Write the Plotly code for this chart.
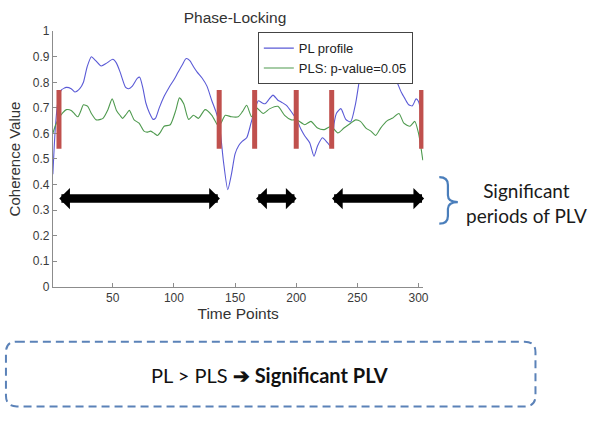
import plotly.graph_objects as go

# ---------------- data ----------------
pl_t = [1, 3, 5, 8, 12, 16, 19, 23, 26, 29, 32.5, 36, 40.5, 45, 50, 53, 56, 60.5, 63, 66,
        70, 72, 74.5, 77, 80, 83, 85, 88, 92, 96, 100, 103, 107, 110, 113, 116, 119, 123,
        127, 131, 134, 137, 140.5, 144, 147, 150, 153, 156, 159.5, 163, 166, 169, 172,
        174.5, 178, 181, 185, 188, 192, 196, 200.5, 204, 207, 211, 214.5, 217.5, 221.5,
        225.5, 229, 231, 233, 236.5, 240.5, 244.5, 248.5, 252.5, 256, 260, 265, 270, 275,
        278, 282.5, 286, 289, 292, 295, 298, 300, 303]
pl_v = [0.44, 0.62, 0.72, 0.77, 0.78, 0.775, 0.762, 0.775, 0.80, 0.86, 0.90, 0.885, 0.864,
        0.875, 0.89, 0.875, 0.84, 0.78, 0.775, 0.785, 0.815, 0.82, 0.78, 0.72, 0.68, 0.655,
        0.66, 0.70, 0.745, 0.78, 0.81, 0.836, 0.87, 0.893, 0.885, 0.861, 0.84, 0.817, 0.785,
        0.728, 0.69, 0.64, 0.49, 0.38, 0.44, 0.52, 0.553, 0.57, 0.583, 0.64, 0.69, 0.728,
        0.72, 0.716, 0.735, 0.75, 0.73, 0.722, 0.71, 0.685, 0.652, 0.615, 0.59, 0.564, 0.511,
        0.552, 0.583, 0.564, 0.545, 0.64, 0.68, 0.697, 0.655, 0.645, 0.716, 0.83, 0.88, 0.91,
        0.925, 0.92, 0.89, 0.85, 0.80, 0.76, 0.735, 0.712, 0.708, 0.735, 0.725, 0.66]

pls_t = [1, 3, 6, 9, 12, 16, 19, 21.5, 24, 26, 29.5, 32.5, 36.5, 40, 42, 46, 49.5, 53, 56,
         58, 61, 63.5, 67.5, 71.5, 75.5, 78, 81, 84, 86.5, 89, 92, 97, 101.5, 104.5, 108,
         112, 116, 120, 125.5, 131, 136.5, 139, 142, 147, 152.5, 156, 159.5, 163.5, 167.5,
         173, 178.5, 185, 190.5, 196, 200.5, 207, 212, 217.5, 223, 228.5, 234, 239, 244.5,
         248.5, 252.5, 257, 261, 265, 269, 274.5, 278.5, 284, 288, 293, 297, 300, 301.5, 303.5]
pls_v = [0.60, 0.63, 0.66, 0.68, 0.693, 0.69, 0.675, 0.665, 0.69, 0.712, 0.706, 0.678, 0.653,
         0.655, 0.659, 0.693, 0.735, 0.69, 0.67, 0.659, 0.675, 0.69, 0.653, 0.64, 0.609, 0.605,
         0.609, 0.60, 0.592, 0.605, 0.628, 0.634, 0.69, 0.739, 0.716, 0.655, 0.671, 0.659,
         0.693, 0.671, 0.628, 0.645, 0.671, 0.665, 0.665, 0.685, 0.71, 0.665, 0.70, 0.678,
         0.697, 0.706, 0.671, 0.653, 0.653, 0.634, 0.647, 0.621, 0.615, 0.628, 0.602, 0.621,
         0.64, 0.653, 0.647, 0.621, 0.609, 0.592, 0.621, 0.65, 0.659, 0.678, 0.64, 0.628,
         0.647, 0.60, 0.56, 0.495]

boundaries = [6, 137, 166, 200, 229, 302.5]      # crossing points (red bars)
bar_low, bar_high = 0.54, 0.77
periods = [(5.0, 137.6), (166, 200.3), (228, 304.6)]  # significant periods
arrow_level = 0.345

x_ticks = [50, 100, 150, 200, 250, 300]
y_ticks = [0, 0.1, 0.2, 0.3, 0.4, 0.5, 0.6, 0.7, 0.8, 0.9, 1]
y_tick_text = ["0", "0.1", "0.2", "0.3", "0.4", "0.5", "0.6", "0.7", "0.8", "0.9", "1"]

# ---------------- figure ----------------
W, H = 597, 426
def px(x):
    return x / W
def py(y):
    return 1 - y / H

AX_FONT = "Liberation Sans, Arial, sans-serif"
TXT_FONT = "Lato, Open Sans, sans-serif"

fig = go.Figure()
fig.add_trace(go.Scatter(x=pl_t, y=pl_v, mode="lines", name="PL profile",
                         line=dict(color="#5a5ad6", width=1.1, shape="spline", smoothing=0.6)))
fig.add_trace(go.Scatter(x=pls_t, y=pls_v, mode="lines", name="PLS: p-value=0.05",
                         line=dict(color="#4f9a4f", width=1.1, shape="spline", smoothing=0.6)))

shapes = []
for b in boundaries:
    shapes.append(dict(type="line", xref="x", yref="y", x0=b, x1=b, y0=bar_low, y1=bar_high,
                       line=dict(color="#c0504d", width=5), layer="above"))

# brace
bx0, bxv, bxt = 443, 451.7, 461.7
by0, bym, by1 = 176, 201.7, 224
brace = (f"M {px(bx0)},{py(by0)} Q {px(bxv)},{py(by0)} {px(bxv)},{py(by0+8)} "
         f"L {px(bxv)},{py(bym-7)} Q {px(bxv)},{py(bym)} {px(bxt)},{py(bym)} "
         f"Q {px(bxv)},{py(bym)} {px(bxv)},{py(bym+7)} "
         f"L {px(bxv)},{py(by1-8)} Q {px(bxv)},{py(by1)} {px(bx0)},{py(by1)}")
shapes.append(dict(type="path", xref="paper", yref="paper", path=brace,
                   line=dict(color="#4a7ebb", width=2.2)))

# dashed rounded box
x0, x1, y0, y1, r = 6, 540, 346, 413, 11
box = (f"M {px(x0+r)},{py(y0)} L {px(x1-r)},{py(y0)} Q {px(x1)},{py(y0)} {px(x1)},{py(y0+r)} "
       f"L {px(x1)},{py(y1-r)} Q {px(x1)},{py(y1)} {px(x1-r)},{py(y1)} "
       f"L {px(x0+r)},{py(y1)} Q {px(x0)},{py(y1)} {px(x0)},{py(y1-r)} "
       f"L {px(x0)},{py(y0+r)} Q {px(x0)},{py(y0)} {px(x0+r)},{py(y0)} Z")
shapes.append(dict(type="path", xref="paper", yref="paper", path=box,
                   line=dict(color="#5b82b8", width=2, dash="8px,5px")))

annotations = []
for (s, e) in periods:
    annotations.append(dict(x=e, y=arrow_level, ax=s, ay=arrow_level, xref="x", yref="y",
                            axref="x", ayref="y", text="", showarrow=True,
                            arrowside="end+start", arrowhead=1, startarrowhead=1,
                            arrowsize=0.42, startarrowsize=0.42, arrowwidth=8.5,
                            arrowcolor="black", standoff=0, startstandoff=0))

annotations.append(dict(x=px(531), y=py(203), xref="paper", yref="paper",
                        text="Significant<br>periods of PLV", showarrow=False,
                        xanchor="center", yanchor="middle",
                        font=dict(family=TXT_FONT, size=19, color="#1a1a1a")))
annotations.append(dict(x=px(271.5), y=py(381), xref="paper", yref="paper",
                        text="PL &gt; PLS <b>➔ Significant PLV</b>", showarrow=False,
                        xanchor="center", yanchor="middle",
                        font=dict(family=TXT_FONT, size=20, color="#111111")))

axis_common = dict(showline=True, linecolor="#8c8c8c", linewidth=1, ticks="inside",
                   ticklen=4, tickcolor="#8c8c8c", showgrid=False, zeroline=False,
                   mirror=False, tickfont=dict(family=AX_FONT, size=12, color="#3a3a3a"))

fig.update_layout(
    width=W, height=H, margin=dict(l=0, r=0, t=0, b=0),
    paper_bgcolor="white", plot_bgcolor="white",
    title=dict(text="Phase-Locking", x=px(237), y=py(11), xanchor="center", yanchor="middle",
               xref="paper", yref="paper",
               font=dict(family=AX_FONT, size=15.5, color="#333333")),
    xaxis=dict(range=[1, 304], domain=[53.3 / W, 427.0 / W], tickvals=x_ticks,
               title=dict(text="Time Points", standoff=3,
                          font=dict(family=AX_FONT, size=15.5, color="#333333")),
               **axis_common),
    yaxis=dict(range=[0, 1], domain=[py(289.3), py(25)], tickvals=y_ticks,
               ticktext=y_tick_text,
               title=dict(text="Coherence Value", standoff=8,
                          font=dict(family=AX_FONT, size=15, color="#333333")),
               **axis_common),
    legend=dict(x=px(260), y=py(26), xanchor="left", yanchor="top",
                bordercolor="#444444", borderwidth=1, bgcolor="white",
                font=dict(family=AX_FONT, size=13, color="#222222"),
                tracegroupgap=0, itemwidth=30),
    shapes=shapes, annotations=annotations, showlegend=True,
)

fig.write_html("out.html")
